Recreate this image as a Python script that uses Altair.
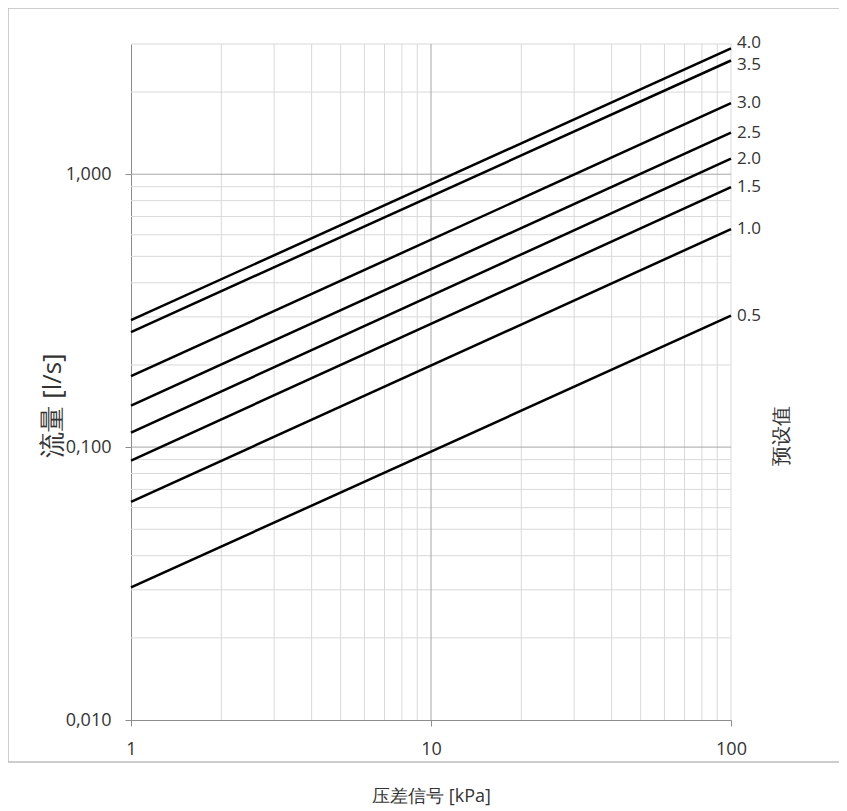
import altair as alt
import pandas as pd

# ---- data ----
settings = ["0.5", "1.0", "1.5", "2.0", "2.5", "3.0", "3.5", "4.0"]
dp_ends = [1, 100]                      # kPa
q_at_1 = [0.0306, 0.063, 0.0893, 0.113, 0.142, 0.182, 0.264, 0.292]   # l/s at 1 kPa
q_at_100 = [0.303, 0.629, 0.896, 1.14, 1.42, 1.82, 2.61, 2.89]        # l/s at 100 kPa

x_ticks = [1, 10, 100]
y_ticks = [0.01, 0.1, 1]
x_grid_major = [10]
x_grid_minor = [2, 3, 4, 5, 6, 7, 8, 9, 20, 30, 40, 50, 60, 70, 80, 90, 100]
y_grid_major = [0.1, 1]
y_grid_minor = [0.02, 0.03, 0.04, 0.05, 0.06, 0.07, 0.08, 0.09,
                0.2, 0.3, 0.4, 0.5, 0.6, 0.7, 0.8, 0.9, 2, 3]

x_title = "压差信号 [kPa]"
y_title = "流量 [l/s]"
legend_title = "预设值"

FONT = "Open Sans"
TEXT = "#333333"

rows = []
for s, a, b in zip(settings, q_at_1, q_at_100):
    rows.append({"setting": s, "dp": dp_ends[0], "q": a})
    rows.append({"setting": s, "dp": dp_ends[1], "q": b})
lines_df = pd.DataFrame(rows)
ends_df = pd.DataFrame({"setting": settings, "dp": [dp_ends[1]] * len(settings), "q": q_at_100})

xscale = alt.Scale(type="log", domain=[1, 100], nice=False)
yscale = alt.Scale(type="log", domain=[0.01, 3], nice=False)

xaxis = alt.Axis(values=x_ticks, grid=False, labelExpr="format(datum.value, 'd')",
                 labelFlush=False, labelOverlap=False, tickSize=6, labelPadding=14,
                 title=x_title, titleFontSize=18, titleFontWeight="normal",
                 titleY=76, titleBaseline="middle", titleColor=TEXT)
yaxis = alt.Axis(values=y_ticks, grid=False,
                 labelExpr="replace(format(datum.value, '.3f'), '.', ',')",
                 labelFlush=False, labelOverlap=False, tickSize=6, labelPadding=14,
                 title=y_title, titleFontSize=26, titleFontWeight="normal",
                 titleAngle=270, titleX=-79, titleY=361, titleAlign="center",
                 titleBaseline="middle", titleColor=TEXT)

X = alt.X("dp:Q", scale=xscale, axis=xaxis)
Y = alt.Y("q:Q", scale=yscale, axis=yaxis)

vminor = alt.Chart(pd.DataFrame({"dp": x_grid_minor})).mark_rule(
    color="#d9d9d9", strokeWidth=1).encode(x=X)
hminor = alt.Chart(pd.DataFrame({"q": y_grid_minor})).mark_rule(
    color="#d9d9d9", strokeWidth=1).encode(y=Y)
vmajor = alt.Chart(pd.DataFrame({"dp": x_grid_major})).mark_rule(
    color="#a6a6a6", strokeWidth=1).encode(x=X)
hmajor = alt.Chart(pd.DataFrame({"q": y_grid_major})).mark_rule(
    color="#a6a6a6", strokeWidth=1).encode(y=Y)

lines = alt.Chart(lines_df).mark_line(color="black", strokeWidth=2.5).encode(
    x=X, y=Y, detail="setting:N")


def label_layer(dy, cond):
    return alt.Chart(ends_df).transform_filter(cond).mark_text(
        align="left", baseline="middle", dx=6, dy=dy, fontSize=17, font=FONT, color=TEXT
    ).encode(x=X, y=Y, text="setting:N")


labels_top = label_layer(-5, alt.datum.setting == "4.0")
labels_2nd = label_layer(4, alt.datum.setting == "3.5")
labels_rest = label_layer(0, (alt.datum.setting != "4.0") & (alt.datum.setting != "3.5"))

frame = alt.Chart(pd.DataFrame({"a": [0]})).mark_rect(
    filled=False, stroke="#bdbdbd", strokeWidth=1.5
).encode(x=alt.value(-123), x2=alt.value(2000), y=alt.value(-36), y2=alt.value(718))

right_title = alt.Chart(pd.DataFrame({"t": [legend_title]})).mark_text(
    angle=270, fontSize=20, font=FONT, color=TEXT, align="center", baseline="middle"
).encode(x=alt.value(651), y=alt.value(392), text="t:N")

chart = alt.layer(vminor, hminor, vmajor, hmajor, lines,
                  labels_top, labels_2nd, labels_rest, frame, right_title).properties(
    width=600, height=676,
    autosize=alt.AutoSizeParams(type="none"),
    padding={"left": 123, "top": 36, "right": 108, "bottom": 90},
).configure_view(stroke=None).configure_axis(
    domainColor="#8c8c8c", tickColor="#8c8c8c", labelFont=FONT, titleFont=FONT,
    labelFontSize=18, labelColor=TEXT,
)

chart.save("out.html", embed_options={"renderer": "svg", "actions": False})
